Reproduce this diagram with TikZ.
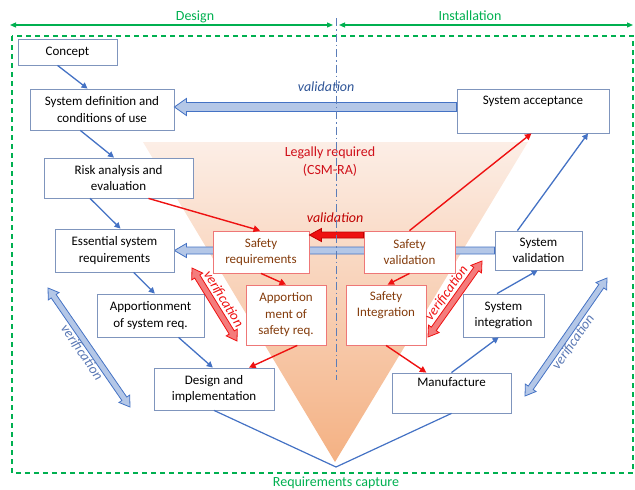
\documentclass[tikz,border=0pt]{standalone}
\usepackage{fontspec}
\setmainfont{Carlito}
\usetikzlibrary{arrows.meta,calc,backgrounds}
\definecolor{gr}{HTML}{00B050}
\definecolor{bxb}{HTML}{7F95BD}
\definecolor{bxr}{HTML}{EE7777}
\definecolor{brn}{HTML}{843C0C}
\definecolor{ablue}{HTML}{4472C4}
\definecolor{lblue}{HTML}{B4C7E7}
\definecolor{dblue}{HTML}{2F5597}
\definecolor{vblue}{HTML}{5A78B4}
\definecolor{ared}{HTML}{EE1111}
\definecolor{dred}{HTML}{C00000}
\definecolor{pred}{HTML}{F47C7C}
\definecolor{legred}{HTML}{D0101A}
\definecolor{peachT}{HTML}{FCEEE6}
\definecolor{peachB}{HTML}{F4B183}
\definecolor{dashb}{HTML}{5B7DB8}
\newcommand\fsbox{\fontsize{13}{16.5}\selectfont}
\newcommand\fshead{\fontsize{14}{18}\selectfont}
% single block arrow: style, start, end, shaft half width, head half width, head length
\newcommand\blkarrow[6]{%
  \path ($(#3)!#6!(#2)$) coordinate (bk-h);
  \draw[#1] ($(#2)!#4!90:(#3)$) -- ($(bk-h)!#4!-90:(#2)$) -- ($(bk-h)!#5!-90:(#2)$) -- (#3)
    -- ($(bk-h)!#5!90:(#2)$) -- ($(bk-h)!#4!90:(#2)$) -- ($(#2)!#4!-90:(#3)$) -- cycle;}
% double block arrow
\newcommand\dblarrow[6]{%
  \path ($(#2)!#6!(#3)$) coordinate (bk-a) ($(#3)!#6!(#2)$) coordinate (bk-b);
  \draw[#1] (#2) -- ($(bk-a)!#5!90:(#3)$) -- ($(bk-a)!#4!90:(#3)$) -- ($(bk-b)!#4!-90:(#2)$)
    -- ($(bk-b)!#5!-90:(#2)$) -- (#3) -- ($(bk-b)!#5!90:(#2)$) -- ($(bk-b)!#4!90:(#2)$)
    -- ($(bk-a)!#4!-90:(#3)$) -- ($(bk-a)!#5!-90:(#3)$) -- cycle;}
\tikzset{
  box/.style={draw=bxb, fill=white, line width=0.8pt, align=center, inner sep=0pt, font=\fsbox, text=black},
  safebox/.style={box, draw=bxr, text=brn},
  bluearr/.style={draw=ablue, line width=1.3pt, -{Triangle[length=6pt,width=6pt]}},
  redarr/.style={draw=ared, line width=1.4pt, -{Triangle[length=6.5pt,width=6.5pt]}},
  greenarr/.style={draw=gr, line width=1.2pt, {Triangle[length=6pt,width=5pt]}-{Triangle[length=6pt,width=5pt]}},
  bblock/.style={draw=ablue, fill=lblue, line width=0.8pt, line join=miter},
  rblock/.style={draw=dred, fill=ared, line width=0.8pt},
  pblock/.style={draw=ared, fill=pred, line width=0.8pt},
  vtext/.style={font=\fshead\itshape, text=vblue, inner sep=3pt},
  rvtext/.style={font=\fshead\itshape, text=ared, inner sep=4.5pt},
  headtext/.style={font=\fshead, text=gr},
}
\begin{document}
\begin{tikzpicture}[x=1pt,y=-1pt]
\useasboundingbox (0,0) rectangle (635,490);
% shaded triangle
\begin{pgfonlayer}{background}
\shade[top color=peachT, bottom color=peachB] (143,142) -- (528,142) -- (335,462) -- cycle;
\end{pgfonlayer}
% headings
\coordinate (dl) at (10,25);
\coordinate (dr) at (333,25);
\coordinate (il) at (339,25);
\coordinate (ir) at (633,25);
\draw[greenarr] (dl) -- (dr);
\draw[greenarr] (il) -- (ir);
\node[headtext] (designh) at (195,17) {Design};
\node[headtext] (install) at (470,16) {Installation};
\node[headtext] (reqcap) at (336,483) {Requirements capture};
\draw[gr, line width=1.2pt, dash pattern=on 5pt off 4pt] (12,36) rectangle (633,473);
% boxes
\node[box, minimum width=99, minimum height=26] (concept) at (67.5,52) {Concept};
\node[box, minimum width=144, minimum height=41] (sysdef) at (102,109.5) {System definition and\\conditions of use};
\node[box, minimum width=152, minimum height=44] (sysacc) at (533,111) {System acceptance\\[0pt]\strut};
\node[box, minimum width=149, minimum height=40] (risk) at (118.5,178) {Risk analysis and\\evaluation};
\node[box, minimum width=119, minimum height=43] (ess) at (114.5,250.5) {Essential system\\requirements};
\node[safebox, minimum width=96, minimum height=42] (safreq) at (261,252) {Safety\\requirements};
\node[safebox, minimum width=91, minimum height=42] (safval) at (409.5,252) {Safety\\validation};
\node[box, minimum width=87, minimum height=39] (sysval) at (538.5,250.5) {System\\validation};
\node[box, minimum width=107, minimum height=43] (appsys) at (150.5,315.5) {Apportionment\\of system req.};
\node[safebox, minimum width=80, minimum height=60] (appsaf) at (286,315) {Apportion\\ment of\\safety req.};
\node[safebox, minimum width=80, minimum height=60] (safint) at (386,315) {Safety\\Integration\\\strut};
\node[box, minimum width=81, minimum height=43] (sysint) at (503.5,315.5) {System\\integration};
\node[box, minimum width=120, minimum height=42] (design) at (214,389) {Design and\\implementation};
\node[box, minimum width=119, minimum height=40] (manuf) at (451.5,393) {Manufacture\\\strut};
% middle blue block arrow (behind safety boxes)
\begin{pgfonlayer}{background}
\blkarrow{bblock}{sysval.west}{ess.east}{3.5pt}{7pt}{12pt}
\end{pgfonlayer}
% top validation block arrow
\coordinate (v1s) at ($(sysacc.west)+(0,-4)$);
\coordinate (v1e) at (v1s -| sysdef.east);
\blkarrow{bblock}{v1s}{v1e}{4.5pt}{8.5pt}{12pt}
\node[font=\fshead\itshape, text=dblue] (val1) at (326,87) {validation};
% red validation arrow
\coordinate (v2s) at ($(safval.west)+(0,-17)$);
\coordinate (v2e) at (v2s -| safreq.east);
\blkarrow{rblock}{v2s}{v2e}{3pt}{6.5pt}{12pt}
\node[font=\fshead\itshape, text=dred] (val2) at (335,218) {validation};
% legally required
\node[font=\fshead, text=legred, align=center] (legal) at (330,162) {Legally required\\(CSM-RA)};
% verification arrows
\coordinate (vb1a) at (48,288);
\coordinate (vb1b) at (130,407);
\dblarrow{bblock}{vb1a}{vb1b}{3pt}{6.5pt}{10pt}
\path (vb1a) -- (vb1b) node[midway, sloped, below, vtext] (ver1) {verification};
\coordinate (vb2a) at (525,396);
\coordinate (vb2b) at (607,278);
\dblarrow{bblock}{vb2a}{vb2b}{3pt}{6.5pt}{10pt}
\path (vb2a) -- (vb2b) node[midway, sloped, below, vtext] (ver2) {verification};
\coordinate (vr1a) at (192,268);
\coordinate (vr1b) at (237,341);
\dblarrow{pblock}{vr1a}{vr1b}{3pt}{6.5pt}{10pt}
\path (vr1a) -- (vr1b) node[midway, sloped, above, rvtext] (ver3) {verification};
\coordinate (vr2a) at (428,337);
\coordinate (vr2b) at (482,261);
\dblarrow{pblock}{vr2a}{vr2b}{3pt}{6.5pt}{10pt}
\path (vr2a) -- (vr2b) node[midway, sloped, above, rvtext] (ver4) {verification};
% blue thin arrows
\draw[bluearr] ($(concept.south west)!0.40!(concept.south east)$) -- ($(sysdef.north west)!0.40!(sysdef.north east)$);
\draw[bluearr] ($(sysdef.south west)!0.35!(sysdef.south east)$) -- ($(risk.north west)!0.47!(risk.north east)$);
\draw[bluearr] ($(risk.south west)!0.31!(risk.south east)$) -- ($(ess.north west)!0.55!(ess.north east)$);
\draw[bluearr] ($(ess.south west)!0.66!(ess.south east)$) -- ($(appsys.north west)!0.54!(appsys.north east)$);
\draw[bluearr] ($(appsys.south west)!0.76!(appsys.south east)$) -- ($(design.north west)!0.49!(design.north east)$);
\draw[bluearr] ($(manuf.north west)!0.50!(manuf.north east)$) -- ($(sysint.south west)!0.44!(sysint.south east)$);
\draw[bluearr] ($(sysint.north west)!0.42!(sysint.north east)$) -- ($(sysval.south west)!0.49!(sysval.south east)$);
\draw[bluearr] ($(sysval.north west)!0.26!(sysval.north east)$) -- ($(sysacc.south west)!0.86!(sysacc.south east)$);
\coordinate (apex) at (336,467);
\draw[ablue, line width=1.2pt] (design.south) -- (apex) -- (manuf.south);
% red thin arrows
\draw[redarr] ($(risk.south west)!0.70!(risk.south east)$) -- ($(safreq.north west)!0.49!(safreq.north east)$);
\draw[redarr] (safreq.south) -- (appsaf.north);
\draw[redarr] ($(appsaf.south west)!0.64!(appsaf.south east)$) -- ($(design.north west)!0.79!(design.north east)$);
\draw[redarr] (safval.south) -- ($(safint.north west)!0.52!(safint.north east)$);
\draw[redarr] (safint.south) -- ($(manuf.north west)!0.29!(manuf.north east)$);
\draw[redarr] (safval.north) -- ($(sysacc.south west)!0.49!(sysacc.south east)$);
% centre line
\coordinate (ct) at (336,18);
\coordinate (cb) at (336,380);
\draw[dashb, line width=0.8pt, dash pattern=on 8pt off 3pt on 1.5pt off 3pt] (ct) -- (cb);
\end{tikzpicture}
\end{document}
